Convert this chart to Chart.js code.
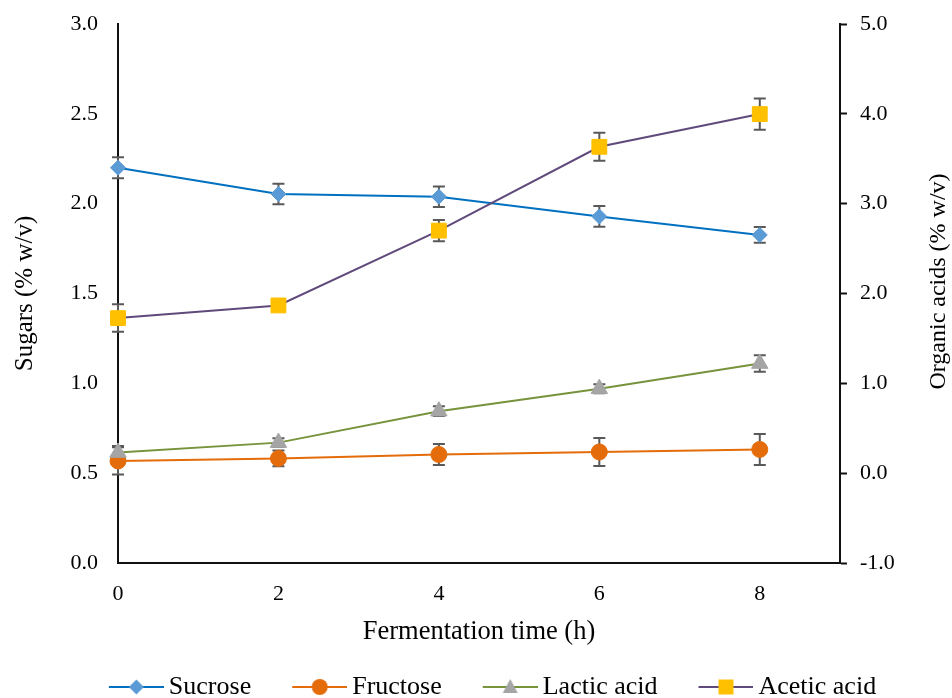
<!DOCTYPE html>
<html>
<head>
<meta charset="utf-8">
<title>Fermentation</title>
<script src="https://cdn.jsdelivr.net/npm/chart.js@4.4.1/dist/chart.umd.min.js"></script>
<style>
    html, body { margin: 0; padding: 0; background: #fff; }
    #wrap { width: 952px; height: 698px; }
</style>
</head>
<body>
<div id="wrap"><canvas id="chart" width="952" height="698"></canvas></div>
<script>
// Data
const timeHours = [0, 2, 4, 6, 8];
const sucrose = [2.20, 2.054, 2.039, 1.929, 1.826];
const sucroseSd = [0.058, 0.057, 0.057, 0.058, 0.044];
const fructose = [0.568, 0.582, 0.604, 0.618, 0.632];
const fructoseSd = [0.076, 0.044, 0.058, 0.078, 0.086];
const lacticAcid = [0.23, 0.34, 0.69, 0.94, 1.22];
const lacticSd = [0.072, 0.05, 0.055, 0.05, 0.092];
const aceticAcid = [1.726, 1.867, 2.70, 3.633, 3.997];
const aceticSd = [0.153, 0.06, 0.117, 0.156, 0.174];

// Tick labels
const xTicks = [0, 2, 4, 6, 8];
const sugarTicks = [0, 0.5, 1.0, 1.5, 2.0, 2.5, 3.0];
const acidTicks = [-1, 0, 1, 2, 3, 4, 5];

const FONT = "'Times New Roman', 'Liberation Serif', serif";
const TICK_FONT = { family: FONT, size: 22, lineHeight: 1 };

const series = [
    { label: 'Sucrose', values: sucrose, sd: sucroseSd, axis: 'y', line: '#0070C0', marker: '#5B9BD5', style: 'rectRot', r: 7.5 },
    { label: 'Fructose', values: fructose, sd: fructoseSd, axis: 'y', line: '#E46C0A', marker: '#E46C0A', style: 'circle', r: 8 },
    { label: 'Lactic acid', values: lacticAcid, sd: lacticSd, axis: 'y1', line: '#77933C', marker: '#A5A5A5', style: 'triangle', r: 9.5 },
    { label: 'Acetic acid', values: aceticAcid, sd: aceticSd, axis: 'y1', line: '#604A7B', marker: '#FFC000', style: 'rect', r: 10.5 }
];

// legend icon = short line with the marker in the middle
const LEGEND_GAP = 25;
const ICON_LINE = 55;
const BOX_W = ICON_LINE + LEGEND_GAP;
function makeIcon(s) {
    const c = document.createElement('canvas');
    c.width = BOX_W + 16;
    c.height = 22;
    const g = c.getContext('2d');
    const x0 = c.width - ICON_LINE, cx = x0 + ICON_LINE / 2, cy = 11;
    g.strokeStyle = s.line;
    g.lineWidth = 2;
    g.beginPath();
    g.moveTo(x0, cy);
    g.lineTo(c.width, cy);
    g.stroke();
    g.fillStyle = s.marker;
    g.beginPath();
    if (s.style === 'rectRot') {
        g.moveTo(cx - 7.5, cy); g.lineTo(cx, cy - 7.5); g.lineTo(cx + 7.5, cy); g.lineTo(cx, cy + 7.5);
    } else if (s.style === 'circle') {
        g.arc(cx, cy, 8, 0, Math.PI * 2);
    } else if (s.style === 'triangle') {
        g.moveTo(cx, cy - 8); g.lineTo(cx + 7.5, cy + 6); g.lineTo(cx - 7.5, cy + 6);
    } else {
        g.rect(cx - 7.5, cy - 7.5, 15, 15);
    }
    g.closePath();
    g.fill();
    return c;
}
const icons = series.map(makeIcon);

const datasets = series.map((s, i) => ({
    label: s.label,
    data: timeHours.map((t, j) => ({ x: t, y: s.values[j] })),
    yAxisID: s.axis,
    borderColor: s.line,
    borderWidth: 2,
    backgroundColor: s.marker,
    pointStyle: s.style,
    pointRadius: s.r,
    pointHoverRadius: s.r,
    pointBackgroundColor: s.marker,
    pointBorderColor: s.marker,
    pointBorderWidth: 1,
    tension: 0,
    fill: false,
    clip: false,
    order: series.length - i
}));

// error bars, drawn under the markers
const errorBars = {
    id: 'errorBars',
    beforeDatasetsDraw(chart) {
        const ctx = chart.ctx;
        const xs = chart.scales.x;
        ctx.save();
        ctx.strokeStyle = '#595959';
        ctx.lineWidth = 2;
        series.forEach((s) => {
            const ys = chart.scales[s.axis];
            timeHours.forEach((t, j) => {
                const x = xs.getPixelForValue(t);
                const top = ys.getPixelForValue(s.values[j] + s.sd[j]);
                const bot = ys.getPixelForValue(s.values[j] - s.sd[j]);
                ctx.beginPath();
                ctx.moveTo(x, top); ctx.lineTo(x, bot);
                ctx.moveTo(x - 6, top); ctx.lineTo(x + 6, top);
                ctx.moveTo(x - 6, bot); ctx.lineTo(x + 6, bot);
                ctx.stroke();
            });
        });
        ctx.restore();
    }
};

// right axis title reads bottom to top
const rightTitle = {
    id: 'rightTitle',
    afterDraw(chart) {
        const sc = chart.scales.y1;
        const ctx = chart.ctx;
        ctx.save();
        ctx.translate(sc.right - 13, (sc.top + sc.bottom) / 2 - 12);
        ctx.rotate(-Math.PI / 2);
        ctx.font = '24px ' + FONT;
        ctx.fillStyle = '#000';
        ctx.textAlign = 'center';
        ctx.textBaseline = 'middle';
        ctx.fillText('Organic acids (% w/v)', 0, 0);
        ctx.restore();
    }
};

const axisBorder = { display: true, color: '#111', width: 2 };

new Chart(document.getElementById('chart'), {
    type: 'line',
    data: { datasets: datasets },
    plugins: [errorBars, rightTitle],
    options: {
        responsive: false,
        animation: false,
        layout: { padding: { top: 24, left: 0, right: 0, bottom: -12 } },
        plugins: {
            tooltip: { enabled: false },
            legend: {
                position: 'bottom',
                labels: {
                    usePointStyle: true,
                    pointStyleWidth: BOX_W,
                    padding: 8,
                    color: '#000',
                    font: { family: FONT, size: 26 },
                    generateLabels: () => series.map((s, i) => ({
                        text: s.label,
                        pointStyle: icons[i],
                        fillStyle: s.marker,
                        strokeStyle: s.line,
                        lineWidth: 0,
                        hidden: false,
                        datasetIndex: i,
                        fontColor: '#000'
                    }))
                }
            }
        },
        scales: {
            x: {
                type: 'linear',
                min: 0,
                max: 9,
                afterBuildTicks: (sc) => { sc.ticks = xTicks.map(v => ({ value: v })); },
                afterFit: (sc) => {
                    const lg = sc.chart.legend ? sc.chart.legend.height : 42;
                    sc.height = 698 - 563 - lg + 12;
                },
                grid: { display: false, drawTicks: false },
                border: axisBorder,
                ticks: { padding: 20, color: '#000', font: TICK_FONT, callback: (v) => v },
                title: { display: true, text: 'Fermentation time (h)', color: '#000', font: { family: FONT, size: 26.5 }, padding: { top: 0, bottom: 18 } }
            },
            y: {
                position: 'left',
                min: 0,
                max: 3,
                afterBuildTicks: (sc) => { sc.ticks = sugarTicks.map(v => ({ value: v })); },
                afterFit: (sc) => { sc.width = 118; },
                // invisible ticks give the label gap without padding the top
                grid: { display: true, drawOnChartArea: false, drawTicks: true, tickLength: 20, tickColor: 'rgba(0,0,0,0)' },
                border: axisBorder,
                ticks: { padding: 0, color: '#000', font: TICK_FONT, callback: (v) => Number(v).toFixed(1) },
                title: { display: true, text: 'Sugars (% w/v)', color: '#000', font: { family: FONT, size: 25 }, padding: { top: 10, bottom: 0 } }
            },
            y1: {
                position: 'right',
                min: -1,
                max: 5,
                afterBuildTicks: (sc) => { sc.ticks = acidTicks.map(v => ({ value: v })); },
                afterFit: (sc) => { sc.width = 112; },
                grid: { display: true, drawOnChartArea: false, drawTicks: true, tickLength: 7, tickColor: '#111', tickWidth: 2 },
                border: axisBorder,
                ticks: { padding: 13, color: '#000', font: TICK_FONT, callback: (v) => Number(v).toFixed(1) }
            }
        }
    }
});
</script>
</body>
</html>
